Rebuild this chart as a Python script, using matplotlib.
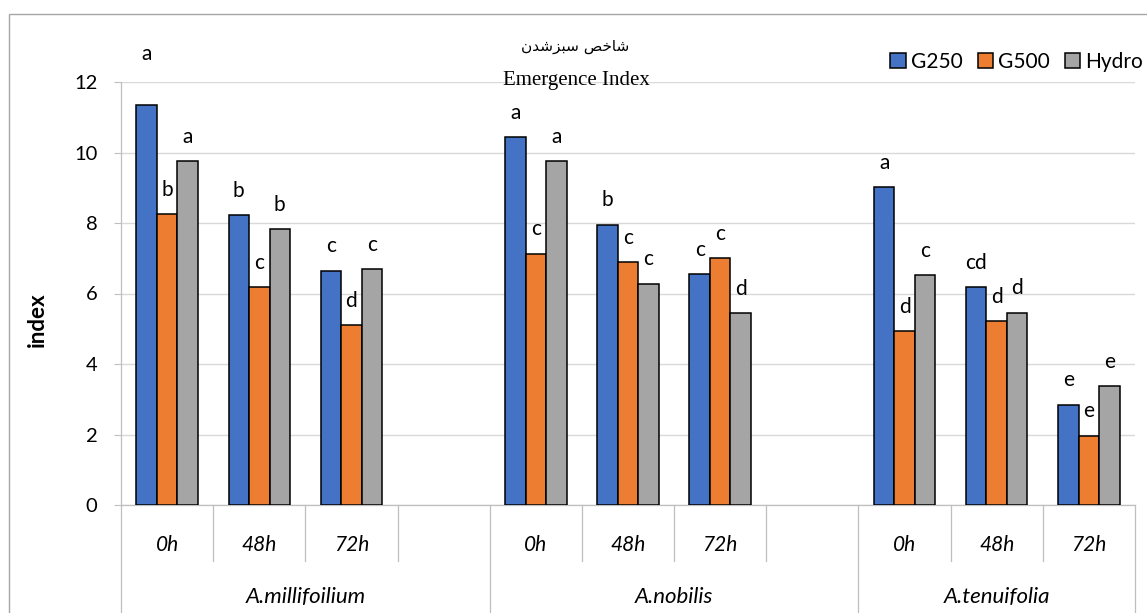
import matplotlib.pyplot as plt
import matplotlib.patches as mpatches
import matplotlib.transforms as mtransforms
import numpy as np

plt.rcParams['font.family'] = ['Lato', 'DejaVu Sans']

# ── data ──────────────────────────────────────────────────────────────────────
species = ["A.millifoilium", "A.nobilis", "A.tenuifolia"]
hours = ["0h", "48h", "72h"]
series = ["G250", "G500", "Hydro"]

g250 = [11.35, 8.22, 6.65, 10.43, 7.95, 6.55, 9.01, 6.18, 2.85]
g500 = [8.25, 6.18, 5.11, 7.13, 6.89, 7.00, 4.93, 5.22, 1.97]
hydro = [9.76, 7.82, 6.70, 9.76, 6.28, 5.45, 6.52, 5.46, 3.37]

lt_g250 = ["a", "b", "c", "a", "b", "c", "a", "cd", "e"]
lt_g500 = ["b", "c", "d", "c", "c", "c", "d", "d", "e"]
lt_hydro = ["a", "b", "c", "a", "c", "d", "c", "d", "e"]

C_BLUE = "#4472C4"
C_ORANGE = "#ED7D31"
C_GRAY = "#A5A5A5"
C_GRID = "#D9D9D9"
C_AXIS = "#BFBFBF"

# title in Arabic presentation forms (visual order, since matplotlib has no shaping)
title_fa = "\uFEE5\uFEAA\uFEB7\uFEB0\uFE92\uFEB3 \uFEBA\uFEA7\uFE8E\uFEB7"

# category slots: 3 hours per species, one empty slot between species
slot_of = []
for s in range(len(species)):
    for h in range(len(hours)):
        slot_of.append(s * 4 + h)
slot_of = np.array(slot_of)
n_slots = 11

fig = plt.figure(figsize=(11.47, 6.13), dpi=100)
ax = fig.add_axes([121 / 1147, 108 / 613, 1014 / 1147, 423 / 613])

bw = 0.222
centers = slot_of + 0.5
for k, (vals, col, letters) in enumerate(zip([g250, g500, hydro],
                                            [C_BLUE, C_ORANGE, C_GRAY],
                                            [lt_g250, lt_g500, lt_hydro])):
    xs = centers + (k - 1) * bw
    ax.bar(xs, vals, width=bw, color=col, edgecolor="black", linewidth=1.1,
           zorder=3, label=series[k])
    for i, (xv, v, t) in enumerate(zip(xs, vals, letters)):
        dy = 17.5
        if k == 0 and i == 0:
            dy = 37
        ax.annotate(t, (xv, v), xytext=(0, dy), textcoords="offset points",
                    ha="center", va="center", fontsize=15, color="black",
                    annotation_clip=False)

ax.set_xlim(0, n_slots)
ax.set_ylim(0, 12)
ax.set_yticks(np.arange(0, 13, 2))
ax.tick_params(axis="y", length=5, width=0.8, color=C_AXIS, pad=12,
               labelsize=14.5, labelcolor="black")
ax.set_xticks([])
ax.grid(axis="y", color=C_GRID, lw=1.0, zorder=0)
for sp in ["top", "right"]:
    ax.spines[sp].set_visible(False)
ax.spines["left"].set_color(C_AXIS)
ax.spines["bottom"].set_color(C_AXIS)
ax.spines["left"].set_linewidth(0.9)
ax.spines["bottom"].set_linewidth(0.9)

# multi-level category axis
trans = mtransforms.blended_transform_factory(ax.transData, ax.transAxes)
inner = -56 / 423
outer = -115 / 423
for b in range(n_slots + 1):
    y1 = outer if b in (0, 4, 8, 11) else inner
    ax.plot([b, b], [0, y1], color=C_AXIS, lw=0.9, transform=trans, clip_on=False)
for i, c in enumerate(centers):
    ax.text(c, -40 / 423, hours[i % 3], transform=trans, ha="center", va="center",
            fontsize=15, style="italic")
for s, (a, b) in enumerate([(0, 4), (4, 8), (8, 11)]):
    ax.text((a + b) / 2, -92 / 423, species[s], transform=trans, ha="center",
            va="center", fontsize=16, style="italic")

# titles and labels
fig.text(575 / 1147, 1 - 47 / 613, title_fa, ha="center", va="center",
         fontsize=11, family=["DejaVu Sans"])
fig.text(576 / 1147, 1 - 81 / 613, "Emergence Index", ha="center", va="center",
         fontsize=15, family=["Liberation Serif"])
fig.text(37 / 1147, 1 - 320 / 613, "index", rotation=90, ha="center",
         va="center", fontsize=16, fontweight="bold")

handles = [mpatches.Patch(facecolor=c, edgecolor="black", lw=1.1)
           for c in [C_BLUE, C_ORANGE, C_GRAY]]
fig.legend(handles, series, loc="center right", bbox_to_anchor=(1147 / 1147 + 0.004, 1 - 62 / 613),
           ncol=3, frameon=False, fontsize=15, handlelength=0.75, handleheight=0.75,
           handletextpad=0.25, columnspacing=0.7, borderaxespad=0)

# outer chart border
fig.patches.append(mpatches.Rectangle((9 / 1147, -0.05), 1.1, 1 - 14 / 613 + 0.05,
                                      transform=fig.transFigure, fill=False,
                                      edgecolor="#A6A6A6", lw=1.0))

fig.savefig("out.png", dpi=100)
